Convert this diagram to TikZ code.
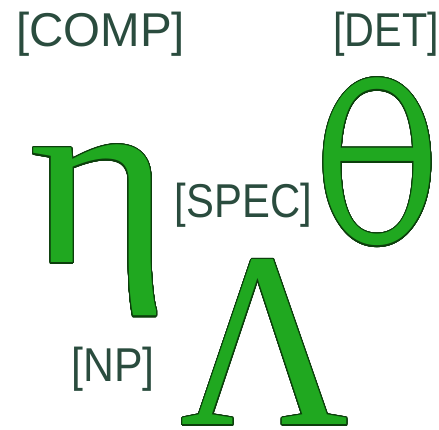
\documentclass[tikz,border=0pt]{standalone}
\usepackage{fontspec}
\usepackage{xcolor}
\usepackage{graphicx}
\usepackage{contour}
\setmainfont{Liberation Serif}
\newfontfamily\tagfont{Liberation Sans}
\newfontfamily\altserif{DejaVu Serif}
\definecolor{gFill}{RGB}{32,168,32}
\definecolor{gLine}{RGB}{12,62,12}
\definecolor{gText}{RGB}{42,76,62}
\contourlength{1.1pt}
\contournumber{32}
\newcommand{\greekglyph}[1]{\contour{gLine}{#1}}
\tikzset{
  sTag/.style={inner sep=0pt,anchor=base,text=gText,
        font=\tagfont\fontsize{47.5}{50}\selectfont},
  sGreek/.style={inner sep=0pt,anchor=base,text=gFill,
        font=\fontsize{250}{260}\selectfont},
  sTheta/.style={sGreek,font=\altserif\fontsize{222}{230}\selectfont},
}
\begin{document}
\begin{tikzpicture}[x=1pt,y=1pt]
\useasboundingbox (0,0) rectangle (439,430);
\node[sTag] (comp) at (100.5,383) {[COMP]};
\node[sTag] (det)  at (386,383) {\scalebox{0.87}[1]{[DET]}};
\node[sTag] (spec) at (243.5,212) {\scalebox{0.88}[1]{[SPEC]}};
\node[sTag] (np)   at (113,48) {\scalebox{0.9}[1]{[NP]}};
\node[sGreek] (eta)    at (100,167) {\scalebox{1.08}[1]{\greekglyph{η}}};
\node[sTheta] (theta)  at (377.5,187) {\scalebox{0.68}[1]{\greekglyph{ϴ}}};
\node[sGreek] (lambda) at (265,5) {\scalebox{0.93}[1]{\greekglyph{Λ}}};
\end{tikzpicture}
\end{document}
